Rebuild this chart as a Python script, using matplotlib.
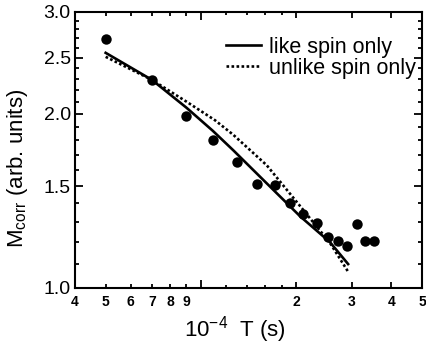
import matplotlib
matplotlib.use("Agg")
import matplotlib.pyplot as plt
from matplotlib.ticker import FixedLocator, FixedFormatter, NullFormatter

plt.rcParams['font.family'] = ['Liberation Sans', 'DejaVu Sans']
plt.rcParams['mathtext.fontset'] = 'custom'
plt.rcParams['mathtext.rm'] = 'Liberation Sans'
plt.rcParams['mathtext.it'] = 'Liberation Sans:italic'

# data (x in units of 1e-4 s)
pts_x = [5.0, 7.0, 9.0, 10.95, 13.0, 15.0, 17.2, 19.1, 21.0, 23.2, 25.2, 27.1, 29.0, 31.2, 33.1, 35.3]
pts_y = [2.69, 2.29, 1.98, 1.80, 1.65, 1.51, 1.507, 1.40, 1.34, 1.295, 1.227, 1.207, 1.182, 1.288, 1.204, 1.204]

like_x = [5.0, 7.0, 9.0, 10.9, 12.66, 16.9, 20.6, 25.6, 29.2]
like_y = [2.55, 2.29, 2.05, 1.87, 1.73, 1.48, 1.33, 1.20, 1.10]

unlike_x = [5.0, 7.0, 9.0, 11.08, 12.66, 16.15, 20.6, 25.6, 29.2]
unlike_y = [2.51, 2.29, 2.10, 1.95, 1.84, 1.63, 1.385, 1.196, 1.067]

xticks = [4, 5, 6, 7, 8, 9, 10, 20, 30, 40, 50]
xticklabels = ['4', '5', '6', '7', '8', '9', '', '2', '3', '4', '5']
xminor = [12, 14, 16, 18]
yticks = [1.0, 1.5, 2.0, 2.5, 3.0]
yminor = [1.1, 1.2, 1.3, 1.4, 1.6, 1.7, 1.8, 1.9, 2.1, 2.2, 2.3, 2.4, 2.6, 2.7, 2.8, 2.9]

fig = plt.figure(figsize=(4.26, 3.49), dpi=100)
ax = fig.add_axes([75/426, 61/349, 347/426, 276/349])

ax.plot(like_x, like_y, '-', color='black', lw=1.9, label='like spin only')
ax.plot(unlike_x, unlike_y, linestyle=(0, (1, 0.9)), color='black', lw=1.9,
        label='unlike spin only')
ax.plot(pts_x, pts_y, 'o', color='black', ms=7.5, mew=0, zorder=3)

ax.set_xscale('log')
ax.set_yscale('log')
ax.set_xlim(4, 50)
ax.set_ylim(1.0, 3.0)

ax.xaxis.set_major_locator(FixedLocator(xticks))
ax.xaxis.set_major_formatter(FixedFormatter(xticklabels))
ax.xaxis.set_minor_locator(FixedLocator(xminor))
ax.xaxis.set_minor_formatter(NullFormatter())
ax.yaxis.set_major_locator(FixedLocator(yticks))
ax.yaxis.set_major_formatter(FixedFormatter(['%.1f' % v for v in yticks]))
ax.yaxis.set_minor_locator(FixedLocator(yminor))
ax.yaxis.set_minor_formatter(NullFormatter())

for s in ax.spines.values():
    s.set_linewidth(1.5)

ax.tick_params(axis='both', which='both', direction='in', top=True, right=True, width=1.3)
ax.tick_params(axis='x', which='major', length=3.2, pad=5, labelsize=10)
ax.tick_params(axis='x', which='minor', length=2.2)
ax.tick_params(axis='y', which='major', length=6, pad=3, labelsize=14)
ax.tick_params(axis='y', which='minor', length=3.2)
for lbl in ax.get_xticklabels():
    lbl.set_fontweight('bold')
for i in (6,):
    t = ax.xaxis.get_major_ticks()[i]
    t.tick1line.set_markersize(6)
    t.tick2line.set_markersize(6)
for i in (7, 8, 9):
    t = ax.xaxis.get_major_ticks()[i]
    t.tick1line.set_markersize(4.2)
    t.tick2line.set_markersize(4.2)

ax.set_xlabel('10$^{-4}$  T (s)', fontsize=16, labelpad=4)
ax.xaxis.set_label_coords(0.46, -0.095)
ax.xaxis.label.set_va('top')
ax.set_ylabel('M$_{\\rm corr}$ (arb. units)', fontsize=16)
ax.yaxis.set_label_coords(-0.13, 0.433)

leg = ax.legend(loc='upper left', bbox_to_anchor=(0.435, 0.91), frameon=False,
                fontsize=15.5, handlelength=1.65, handletextpad=0.35,
                labelspacing=0.0, borderpad=0, borderaxespad=0)

fig.savefig('out.png', dpi=100)
